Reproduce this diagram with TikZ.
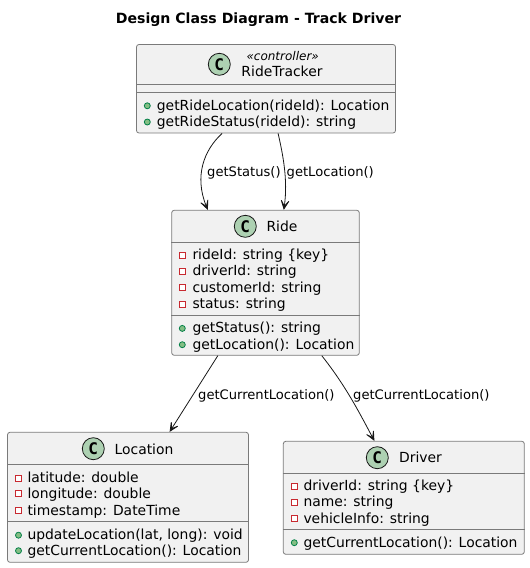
\documentclass[tikz,border=0pt]{standalone}
\usepackage{fontspec}
\setmainfont{DejaVu Sans}
\newfontfamily\spotfont{DejaVu Sans Mono}
\usetikzlibrary{positioning,arrows.meta}

\definecolor{boxfill}{HTML}{F1F1F1}
\definecolor{boxline}{HTML}{7A7A7A}
\definecolor{inkdark}{HTML}{181818}
\definecolor{spotfill}{HTML}{ADD1B2}
\definecolor{pubfill}{HTML}{84BE84}
\definecolor{publine}{HTML}{038048}
\definecolor{privline}{HTML}{C82930}

\tikzset{
    classbox/.style={draw=boxline, fill=boxfill, line width=0.8pt, rounded corners=2.5pt, inner sep=0pt},
    spot/.style={circle, draw=inkdark, fill=spotfill, line width=0.8pt, minimum size=22pt, inner sep=0pt, font=\fontsize{16}{16}\selectfont\spotfont\bfseries},
    classname/.style={anchor=base, inner sep=0pt, text=black, font=\fontsize{13.9}{14}\selectfont},
    stereo/.style={anchor=base, inner sep=0pt, text=black, font=\fontsize{12}{12}\selectfont\itshape},
    member/.style={anchor=base west, inner sep=0pt, text=black, font=\fontsize{13.9}{14}\selectfont},
    edgelabel/.style={anchor=base west, inner sep=0pt, text=black, font=\fontsize{13.1}{13}\selectfont},
    pub/.style={circle, draw=publine, fill=pubfill, line width=0.8pt, minimum size=6pt, inner sep=0pt},
    priv/.style={rectangle, draw=privline, fill=white, line width=0.8pt, minimum size=6pt, inner sep=0pt},
    divider/.style={draw=boxline, line width=0.8pt},
    assoc/.style={draw=inkdark, line width=0.8pt, -{Stealth[length=13pt,width=12pt,inset=8.5pt]}},
}

\begin{document}
\begin{tikzpicture}[x=1pt,y=-1pt]
    \useasboundingbox (0,0) rectangle (530,568);

    % Title
    \node[inner sep=0pt, anchor=base, font=\fontsize{14.1}{14}\selectfont\bfseries] (title) at (258.5,23) {Design Class Diagram - Track Driver};

    % Class boxes
    \node[classbox, minimum width=259pt, minimum height=88.5pt] (tracker) at (266,88.75) {};
    \node[classbox, minimum width=187.6pt, minimum height=145pt] (ride) at (265.5,282.8) {};
    \node[classbox, minimum width=241pt, minimum height=130pt] (location) at (128,497.3) {};
    \node[classbox, minimum width=241pt, minimum height=113pt] (driver) at (403.8,497.8) {};

    % Dividers
    \foreach \y in {84.5,92.5} \draw[divider] (tracker.west |- 0,\y) -- (tracker.east |- 0,\y);
    \foreach \y in {242.3,315.7} \draw[divider] (ride.west |- 0,\y) -- (ride.east |- 0,\y);
    \foreach \y in {464.3,521.3} \draw[divider] (location.west |- 0,\y) -- (location.east |- 0,\y);
    \foreach \y in {473.3,529.3} \draw[divider] (driver.west |- 0,\y) -- (driver.east |- 0,\y);

    % Headers
    \node[spot] (trackerspot) at (219.3,64.3) {C};
    \node[stereo] (trackerstereo) at (282.7,60) {«controller»};
    \node[classname] (trackername) at (282,76.5) {RideTracker};
    \node[spot] (ridespot) at (245.3,226.3) {C};
    \node[classname] (ridename) at (282,231.5) {Ride};
    \node[spot] (locationspot) at (93.3,448.7) {C};
    \node[classname] (locationname) at (144,454) {Location};
    \node[spot] (driverspot) at (377.3,457.7) {C};
    \node[classname] (drivername) at (420.5,462.5) {Driver};

    % Members
    \node[pub] (tm1) at (147.3,105.8) {};
    \node[member] (tt1) at (156.7,110) {getRideLocation(rideId): Location};
    \node[pub] (tm2) at (147.3,122) {};
    \node[member] (tt2) at (156.7,126.3) {getRideStatus(rideId): string};

    \foreach \i/\y/\txt in {1/259.3/{rideId: string \{key\}},2/275.6/{driverId: string},3/292/{customerId: string},4/308.6/{status: string}} {
        \node[priv] (rp\i) at (182.3,\y-4.3) {};
        \node[member] (rt\i) at (192.3,\y) {\txt};
    }
    \foreach \i/\y/\txt in {1/332.7/{getStatus(): string},2/349/{getLocation(): Location}} {
        \node[pub] (rm\i) at (182.3,\y-4.3) {};
        \node[member] (rs\i) at (192.3,\y) {\txt};
    }

    \foreach \i/\y/\txt in {1/482.3/{latitude: double},2/498/{longitude: double},3/515/{timestamp: DateTime}} {
        \node[priv] (lp\i) at (18.5,\y-4.3) {};
        \node[member] (lt\i) at (27.3,\y) {\txt};
    }
    \foreach \i/\y/\txt in {1/539.5/{updateLocation(lat, long): void},2/555/{getCurrentLocation(): Location}} {
        \node[pub] (lm\i) at (18.5,\y-4.3) {};
        \node[member] (ls\i) at (27.3,\y) {\txt};
    }

    \foreach \i/\y/\txt in {1/490.3/{driverId: string \{key\}},2/506.5/{name: string},3/523/{vehicleInfo: string}} {
        \node[priv] (dp\i) at (294.3,\y-4.3) {};
        \node[member] (dt\i) at (303.3,\y) {\txt};
    }
    \node[pub] (dm1) at (294.3,542.7) {};
    \node[member] (ds1) at (303.3,547) {getCurrentLocation(): Location};

    % Connectors
    \draw[assoc] ([xshift=86pt]tracker.south west) .. controls (204,150) and (194,176) .. ([xshift=36.5pt]ride.north west);
    \draw[assoc] ([xshift=142pt]tracker.south west) .. controls (283,155) and (288,180) .. ([xshift=112.5pt]ride.north west);
    \draw[assoc] ([xshift=46.5pt]ride.south west) -- ([xshift=162.5pt]location.north west);
    \draw[assoc] ([xshift=150.5pt]ride.south west) .. controls (345,385) and (358,410) .. ([xshift=91.5pt]driver.north west);

    % Connector labels
    \node[edgelabel] (statuslabel) at (207,176) {getStatus()};
    \node[edgelabel] (locationlabel) at (286.5,176) {getLocation()};
    \node[edgelabel] (currentleft) at (198,399) {getCurrentLocation()};
    \node[edgelabel] (currentright) at (353,399) {getCurrentLocation()};
\end{tikzpicture}
\end{document}
